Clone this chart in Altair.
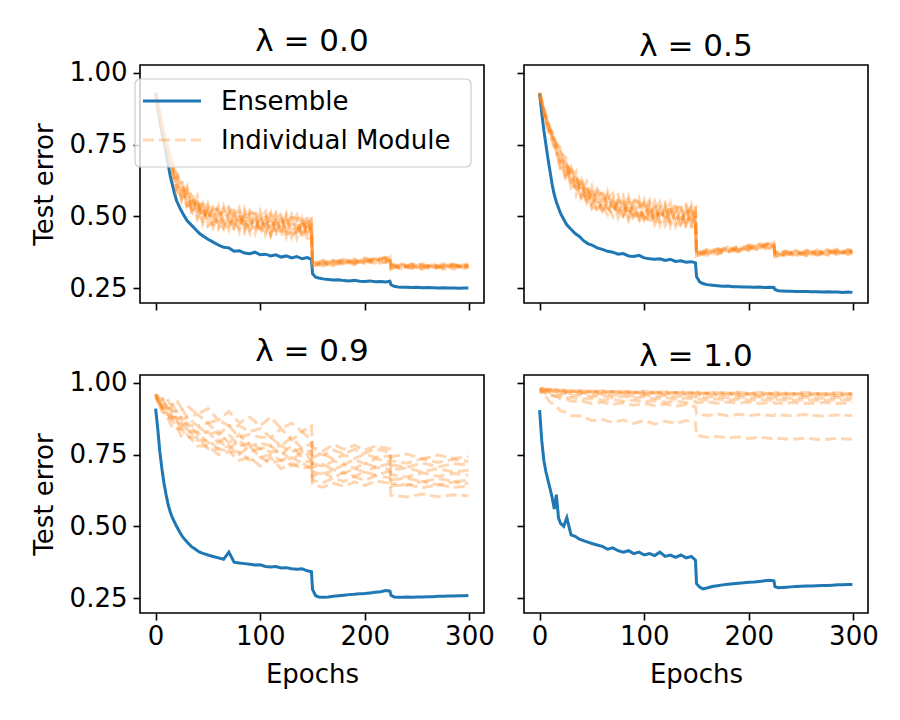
import altair as alt
import pandas as pd

# ---------------- data ----------------
PANEL_TITLES = ["λ = 0.0", "λ = 0.5", "λ = 0.9", "λ = 1.0"]
X_TICKS = [0, 100, 200, 300]
Y_TICKS = [0.25, 0.50, 0.75, 1.00]
LEGEND_LABELS = ["Ensemble", "Individual Module"]

EPOCHS_ENS = [0, 2, 4, 6, 8, 10, 12, 14, 16, 18, 20,
              23, 26,
              30, 34, 38, 42, 46, 50,
              55, 60, 65, 70, 75, 80, 85, 90, 95, 100, 105, 110, 115, 120, 125, 130, 135, 140, 145,
              149,
              150, 153, 156,
              160, 165, 170, 175, 180, 185, 190, 195, 200, 205, 210, 215, 220,
              224, 225, 228, 232, 236,
              240, 245, 250, 255, 260, 265, 270, 275, 280, 285, 290, 295,
              299]

ENS_00 = [0.93, 0.88, 0.83, 0.79, 0.76, 0.72, 0.68, 0.64, 0.61, 0.58, 0.555,
          0.53, 0.51,
          0.485, 0.47, 0.455, 0.44, 0.43, 0.42,
          0.41, 0.40, 0.392, 0.39, 0.378, 0.38, 0.372, 0.37, 0.375, 0.366, 0.368, 0.362, 0.366, 0.358, 0.362, 0.355, 0.36, 0.352, 0.356,
          0.35,
          0.30, 0.288, 0.285,
          0.282, 0.28, 0.278, 0.279, 0.276, 0.275, 0.277, 0.274, 0.273, 0.275, 0.272, 0.273, 0.271,
          0.274, 0.262, 0.256, 0.254, 0.253,
          0.253, 0.252, 0.253, 0.251, 0.252, 0.251, 0.25, 0.251, 0.25, 0.25, 0.249, 0.25,
          0.25]

ENS_05 = [0.928, 0.86, 0.80, 0.75, 0.70, 0.655, 0.61, 0.575, 0.55, 0.53, 0.51,
          0.49, 0.47,
          0.455, 0.44, 0.43, 0.415, 0.405, 0.40,
          0.39, 0.385, 0.378, 0.375, 0.368, 0.37, 0.362, 0.36, 0.364, 0.355, 0.352, 0.35, 0.352, 0.346, 0.35, 0.343, 0.345, 0.34, 0.342,
          0.338,
          0.29, 0.272, 0.266,
          0.262, 0.26, 0.258, 0.256, 0.257, 0.255, 0.255, 0.254, 0.254, 0.253, 0.254, 0.252, 0.253,
          0.252, 0.245, 0.241, 0.24, 0.239,
          0.239, 0.238, 0.238, 0.238, 0.237, 0.237, 0.236, 0.237, 0.236, 0.236, 0.235, 0.236,
          0.235]

ENS_09 = [0.91, 0.84, 0.76, 0.70, 0.65, 0.61, 0.575, 0.55, 0.53, 0.515, 0.50,
          0.48, 0.462,
          0.445, 0.43, 0.42, 0.41, 0.405, 0.40,
          0.395, 0.39, 0.385, 0.41, 0.375, 0.372, 0.37, 0.368, 0.365, 0.366, 0.36, 0.358, 0.36, 0.355, 0.356, 0.352, 0.35, 0.352, 0.345,
          0.342,
          0.28, 0.258, 0.254,
          0.253, 0.254, 0.256, 0.258, 0.26, 0.262, 0.263, 0.265, 0.266, 0.268, 0.27, 0.272, 0.276,
          0.274, 0.26, 0.254, 0.253, 0.253,
          0.254, 0.253, 0.254, 0.254, 0.255, 0.255, 0.256, 0.256, 0.257, 0.257, 0.258, 0.258,
          0.259]

ENS_10 = [0.905, 0.80, 0.73, 0.69, 0.66, 0.63, 0.60, 0.56, 0.61, 0.53, 0.51,
          0.50, 0.53,
          0.47, 0.465, 0.455, 0.45, 0.445, 0.44,
          0.435, 0.43, 0.42, 0.425, 0.415, 0.41, 0.415, 0.405, 0.41, 0.40, 0.405, 0.398, 0.41, 0.395, 0.40, 0.392, 0.40, 0.39, 0.395,
          0.382,
          0.30, 0.288, 0.282,
          0.285, 0.29, 0.293, 0.296, 0.298, 0.30, 0.302, 0.303, 0.305, 0.306, 0.308, 0.31, 0.312,
          0.31, 0.29, 0.286, 0.287, 0.288,
          0.289, 0.29, 0.291, 0.292, 0.292, 0.293, 0.294, 0.294, 0.295, 0.296, 0.296, 0.297,
          0.297]

# finer epoch grid for the dense module bands (lambda 0.0 and 0.5)
EPOCHS_MOD_FINE = [0, 3, 6, 10, 15,
                   20, 25, 30, 35, 40, 45, 50, 55, 60, 65, 70, 75, 80, 85, 90, 95,
                   100, 105, 110, 115, 120, 125, 130, 135, 140, 145, 149,
                   150, 160, 170, 180, 190, 200, 210, 220, 224,
                   225, 235, 245, 255, 265, 275, 285, 295, 299]

MOD_00 = [
    [0.93, 0.88, 0.83, 0.77, 0.70,
     0.65, 0.57, 0.605, 0.535, 0.55, 0.475, 0.535, 0.51, 0.467, 0.535, 0.472, 0.51, 0.447, 0.515, 0.482, 0.45,
     0.518, 0.466, 0.494, 0.432, 0.50, 0.448, 0.476, 0.504, 0.432, 0.48, 0.448,
     0.343, 0.330, 0.348, 0.336, 0.348, 0.334, 0.350, 0.346, 0.359,
     0.332, 0.317, 0.335, 0.320, 0.333, 0.315, 0.329, 0.320, 0.331],
    [0.92, 0.86, 0.80, 0.74, 0.67,
     0.60, 0.62, 0.535, 0.565, 0.49, 0.525, 0.485, 0.54, 0.517, 0.465, 0.522, 0.45, 0.497, 0.465, 0.522, 0.50,
     0.448, 0.506, 0.434, 0.482, 0.46, 0.508, 0.436, 0.444, 0.492, 0.42, 0.478,
     0.328, 0.345, 0.335, 0.351, 0.334, 0.349, 0.337, 0.355, 0.346,
     0.317, 0.330, 0.322, 0.334, 0.319, 0.329, 0.334, 0.316, 0.326],
    [0.93, 0.87, 0.82, 0.76, 0.69,
     0.63, 0.55, 0.585, 0.575, 0.51, 0.545, 0.465, 0.48, 0.537, 0.485, 0.452, 0.52, 0.507, 0.445, 0.502, 0.46,
     0.488, 0.516, 0.444, 0.502, 0.43, 0.468, 0.506, 0.434, 0.472, 0.49, 0.428,
     0.346, 0.334, 0.330, 0.344, 0.331, 0.352, 0.348, 0.338, 0.356,
     0.328, 0.335, 0.316, 0.328, 0.324, 0.333, 0.315, 0.333, 0.322],
    [0.93, 0.88, 0.81, 0.75, 0.68,
     0.58, 0.60, 0.555, 0.515, 0.57, 0.495, 0.515, 0.46, 0.507, 0.515, 0.532, 0.48, 0.457, 0.495, 0.442, 0.52,
     0.458, 0.446, 0.504, 0.452, 0.49, 0.438, 0.446, 0.484, 0.502, 0.45, 0.498,
     0.332, 0.341, 0.345, 0.331, 0.345, 0.340, 0.356, 0.353, 0.340,
     0.321, 0.322, 0.331, 0.315, 0.336, 0.319, 0.331, 0.328, 0.335],
    [0.92, 0.87, 0.80, 0.73, 0.66,
     0.64, 0.63, 0.525, 0.555, 0.52, 0.555, 0.495, 0.53, 0.457, 0.505, 0.502, 0.46, 0.527, 0.475, 0.462, 0.49,
     0.508, 0.436, 0.484, 0.512, 0.44, 0.498, 0.426, 0.464, 0.442, 0.50, 0.438,
     0.339, 0.326, 0.340, 0.347, 0.337, 0.355, 0.340, 0.357, 0.352,
     0.336, 0.324, 0.318, 0.331, 0.317, 0.326, 0.322, 0.335, 0.319],
    [0.93, 0.87, 0.82, 0.76, 0.70,
     0.61, 0.56, 0.595, 0.505, 0.56, 0.485, 0.545, 0.49, 0.477, 0.455, 0.512, 0.53, 0.467, 0.525, 0.452, 0.47,
     0.458, 0.496, 0.434, 0.492, 0.51, 0.428, 0.486, 0.424, 0.492, 0.43, 0.468,
     0.325, 0.339, 0.327, 0.341, 0.351, 0.337, 0.353, 0.343, 0.343,
     0.324, 0.332, 0.328, 0.317, 0.330, 0.321, 0.337, 0.318, 0.329],
    [0.92, 0.86, 0.81, 0.75, 0.67,
     0.66, 0.59, 0.545, 0.585, 0.50, 0.535, 0.475, 0.52, 0.527, 0.475, 0.462, 0.50, 0.517, 0.455, 0.512, 0.51,
     0.438, 0.476, 0.514, 0.442, 0.45, 0.478, 0.496, 0.494, 0.422, 0.47, 0.488,
     0.336, 0.347, 0.333, 0.333, 0.352, 0.346, 0.343, 0.359, 0.354,
     0.315, 0.328, 0.320, 0.336, 0.322, 0.335, 0.319, 0.327, 0.317],
    [0.93, 0.88, 0.82, 0.76, 0.69,
     0.59, 0.61, 0.575, 0.525, 0.54, 0.505, 0.525, 0.47, 0.487, 0.525, 0.482, 0.47, 0.477, 0.505, 0.492, 0.44,
     0.498, 0.456, 0.464, 0.472, 0.48, 0.488, 0.456, 0.454, 0.482, 0.44, 0.418,
     0.329, 0.335, 0.343, 0.349, 0.340, 0.343, 0.335, 0.340, 0.348,
     0.333, 0.315, 0.333, 0.324, 0.315, 0.330, 0.328, 0.323, 0.332],
]

MOD_05 = [
    [0.93, 0.89, 0.85, 0.81, 0.76,
     0.71, 0.625, 0.66, 0.645, 0.575, 0.61, 0.525, 0.535, 0.59, 0.535, 0.50, 0.565, 0.55, 0.487, 0.544, 0.50,
     0.528, 0.555, 0.482, 0.54, 0.468, 0.506, 0.544, 0.472, 0.51, 0.53, 0.468,
     0.378, 0.368, 0.388, 0.378, 0.392, 0.380, 0.398, 0.396, 0.409,
     0.374, 0.362, 0.381, 0.367, 0.380, 0.364, 0.378, 0.370, 0.382],
    [0.92, 0.87, 0.83, 0.79, 0.74,
     0.69, 0.635, 0.67, 0.575, 0.625, 0.55, 0.605, 0.545, 0.53, 0.505, 0.56, 0.575, 0.51, 0.567, 0.494, 0.51,
     0.498, 0.535, 0.472, 0.53, 0.548, 0.466, 0.524, 0.462, 0.53, 0.47, 0.508,
     0.363, 0.383, 0.375, 0.393, 0.378, 0.395, 0.385, 0.405, 0.396,
     0.359, 0.375, 0.368, 0.381, 0.366, 0.378, 0.383, 0.366, 0.377],
    [0.93, 0.88, 0.84, 0.80, 0.75,
     0.73, 0.645, 0.68, 0.605, 0.615, 0.54, 0.595, 0.565, 0.52, 0.585, 0.52, 0.555, 0.49, 0.557, 0.524, 0.49,
     0.558, 0.505, 0.532, 0.47, 0.538, 0.486, 0.514, 0.542, 0.47, 0.52, 0.488,
     0.381, 0.372, 0.370, 0.386, 0.375, 0.398, 0.396, 0.388, 0.406,
     0.370, 0.380, 0.362, 0.375, 0.371, 0.382, 0.364, 0.383, 0.373],
    [0.93, 0.89, 0.85, 0.80, 0.76,
     0.74, 0.665, 0.62, 0.655, 0.565, 0.60, 0.535, 0.575, 0.58, 0.525, 0.51, 0.545, 0.56, 0.497, 0.554, 0.55,
     0.478, 0.515, 0.552, 0.48, 0.488, 0.516, 0.534, 0.532, 0.46, 0.51, 0.528,
     0.367, 0.379, 0.385, 0.373, 0.389, 0.386, 0.404, 0.403, 0.390,
     0.363, 0.367, 0.377, 0.362, 0.383, 0.368, 0.380, 0.378, 0.386],
    [0.92, 0.87, 0.82, 0.78, 0.73,
     0.68, 0.695, 0.61, 0.635, 0.555, 0.59, 0.545, 0.595, 0.57, 0.515, 0.57, 0.495, 0.54, 0.507, 0.564, 0.54,
     0.488, 0.545, 0.472, 0.52, 0.498, 0.546, 0.474, 0.482, 0.53, 0.46, 0.518,
     0.374, 0.364, 0.380, 0.389, 0.381, 0.401, 0.388, 0.407, 0.402,
     0.378, 0.369, 0.364, 0.378, 0.364, 0.375, 0.371, 0.385, 0.370],
    [0.93, 0.88, 0.84, 0.81, 0.75,
     0.67, 0.685, 0.65, 0.595, 0.605, 0.57, 0.585, 0.525, 0.54, 0.575, 0.53, 0.515, 0.52, 0.547, 0.534, 0.48,
     0.538, 0.495, 0.502, 0.51, 0.518, 0.526, 0.494, 0.492, 0.52, 0.48, 0.458,
     0.360, 0.377, 0.367, 0.383, 0.395, 0.383, 0.401, 0.393, 0.393,
     0.366, 0.377, 0.374, 0.364, 0.377, 0.370, 0.386, 0.368, 0.380],
    [0.92, 0.88, 0.83, 0.79, 0.74,
     0.66, 0.675, 0.63, 0.585, 0.635, 0.56, 0.575, 0.515, 0.56, 0.565, 0.58, 0.525, 0.50, 0.537, 0.484, 0.56,
     0.498, 0.485, 0.542, 0.49, 0.528, 0.476, 0.484, 0.522, 0.54, 0.49, 0.538,
     0.371, 0.385, 0.373, 0.375, 0.396, 0.392, 0.391, 0.409, 0.404,
     0.357, 0.373, 0.366, 0.383, 0.369, 0.384, 0.368, 0.377, 0.368],
    [0.93, 0.89, 0.84, 0.80, 0.76,
     0.72, 0.705, 0.60, 0.625, 0.585, 0.62, 0.555, 0.585, 0.51, 0.555, 0.55, 0.505, 0.57, 0.517, 0.504, 0.53,
     0.548, 0.475, 0.522, 0.55, 0.478, 0.536, 0.464, 0.502, 0.48, 0.54, 0.478,
     0.364, 0.373, 0.383, 0.391, 0.384, 0.389, 0.383, 0.390, 0.398,
     0.375, 0.360, 0.379, 0.371, 0.362, 0.379, 0.377, 0.373, 0.383],
]

# coarser epoch grid for lambda 0.9 and 1.0 modules
EPOCHS_MOD = [0, 3, 6, 10, 15, 20, 25, 30, 40, 50, 60, 70, 80, 90, 100, 110, 120, 130, 140, 149,
              150, 160, 170, 180, 190, 200, 210, 224,
              225, 240, 255, 270, 285, 299]

MOD_09 = [
    [0.96, 0.95, 0.94, 0.95, 0.92, 0.94, 0.91, 0.92, 0.89, 0.91, 0.87, 0.90, 0.86, 0.88, 0.85, 0.88, 0.84, 0.86, 0.83, 0.85,
     0.775, 0.762, 0.785, 0.768, 0.782, 0.765, 0.779, 0.77,
     0.742, 0.752, 0.735, 0.748, 0.736, 0.742],
    [0.96, 0.94, 0.95, 0.92, 0.93, 0.90, 0.91, 0.88, 0.89, 0.86, 0.87, 0.85, 0.85, 0.83, 0.84, 0.81, 0.84, 0.80, 0.83, 0.80,
     0.76, 0.748, 0.765, 0.752, 0.768, 0.754, 0.77, 0.758,
     0.728, 0.72, 0.735, 0.722, 0.733, 0.726],
    [0.95, 0.95, 0.92, 0.93, 0.90, 0.90, 0.87, 0.88, 0.85, 0.86, 0.82, 0.85, 0.81, 0.82, 0.81, 0.81, 0.78, 0.81, 0.77, 0.79,
     0.74, 0.752, 0.733, 0.748, 0.736, 0.752, 0.74, 0.746,
     0.714, 0.706, 0.72, 0.707, 0.718, 0.713],
    [0.96, 0.93, 0.93, 0.91, 0.91, 0.87, 0.88, 0.85, 0.85, 0.82, 0.83, 0.79, 0.82, 0.78, 0.79, 0.78, 0.78, 0.76, 0.77, 0.76,
     0.72, 0.708, 0.728, 0.716, 0.732, 0.718, 0.735, 0.726,
     0.696, 0.703, 0.69, 0.701, 0.689, 0.695],
    [0.95, 0.94, 0.91, 0.92, 0.88, 0.88, 0.85, 0.86, 0.82, 0.83, 0.79, 0.82, 0.78, 0.79, 0.77, 0.78, 0.75, 0.78, 0.74, 0.76,
     0.705, 0.716, 0.698, 0.714, 0.702, 0.72, 0.706, 0.718,
     0.68, 0.672, 0.686, 0.674, 0.684, 0.678],
    [0.96, 0.93, 0.92, 0.89, 0.89, 0.86, 0.86, 0.83, 0.83, 0.79, 0.80, 0.77, 0.80, 0.76, 0.77, 0.76, 0.76, 0.73, 0.76, 0.73,
     0.69, 0.68, 0.698, 0.684, 0.702, 0.688, 0.706, 0.698,
     0.662, 0.668, 0.655, 0.666, 0.656, 0.66],
    [0.95, 0.93, 0.91, 0.90, 0.87, 0.87, 0.83, 0.84, 0.80, 0.80, 0.77, 0.78, 0.75, 0.78, 0.74, 0.75, 0.73, 0.74, 0.72, 0.73,
     0.675, 0.686, 0.67, 0.688, 0.674, 0.69, 0.678, 0.692,
     0.65, 0.643, 0.656, 0.645, 0.654, 0.649],
    [0.96, 0.92, 0.92, 0.88, 0.88, 0.84, 0.84, 0.81, 0.81, 0.77, 0.77, 0.76, 0.76, 0.73, 0.74, 0.72, 0.73, 0.71, 0.72, 0.70,
     0.66, 0.652, 0.668, 0.656, 0.672, 0.66, 0.676, 0.67,
     0.64, 0.646, 0.634, 0.645, 0.636, 0.639],
    [0.95, 0.93, 0.90, 0.89, 0.85, 0.85, 0.81, 0.82, 0.78, 0.78, 0.75, 0.76, 0.73, 0.74, 0.71, 0.74, 0.70, 0.72, 0.70, 0.71,
     0.645, 0.636, 0.65, 0.64, 0.655, 0.642, 0.658, 0.65,
     0.608, 0.602, 0.612, 0.603, 0.61, 0.606],
]

MOD_10 = [
    [0.98, 0.975, 0.978, 0.972, 0.976, 0.97, 0.974, 0.968, 0.972, 0.967, 0.971, 0.966, 0.97, 0.965, 0.969, 0.964, 0.968, 0.964, 0.967, 0.963,
     0.966, 0.962, 0.966, 0.962, 0.965, 0.961, 0.965, 0.961,
     0.964, 0.961, 0.964, 0.96, 0.963, 0.962],
    [0.975, 0.979, 0.972, 0.976, 0.969, 0.974, 0.967, 0.972, 0.965, 0.97, 0.963, 0.968, 0.962, 0.966, 0.96, 0.965, 0.959, 0.964, 0.958, 0.963,
     0.957, 0.961, 0.956, 0.96, 0.956, 0.96, 0.955, 0.959,
     0.955, 0.959, 0.955, 0.958, 0.955, 0.957],
    [0.978, 0.972, 0.974, 0.968, 0.97, 0.965, 0.968, 0.961, 0.965, 0.958, 0.962, 0.956, 0.96, 0.954, 0.958, 0.952, 0.956, 0.951, 0.955, 0.95,
     0.953, 0.949, 0.952, 0.948, 0.951, 0.947, 0.951, 0.947,
     0.95, 0.946, 0.95, 0.946, 0.949, 0.947],
    [0.975, 0.97, 0.971, 0.964, 0.966, 0.959, 0.962, 0.955, 0.958, 0.951, 0.955, 0.948, 0.953, 0.946, 0.951, 0.944, 0.949, 0.943, 0.947, 0.942,
     0.945, 0.94, 0.944, 0.939, 0.943, 0.939, 0.943, 0.938,
     0.942, 0.938, 0.941, 0.938, 0.941, 0.939],
    [0.97, 0.968, 0.962, 0.96, 0.953, 0.954, 0.948, 0.949, 0.943, 0.945, 0.939, 0.942, 0.936, 0.939, 0.934, 0.937, 0.932, 0.936, 0.931, 0.935,
     0.93, 0.934, 0.929, 0.933, 0.929, 0.932, 0.928, 0.932,
     0.928, 0.931, 0.928, 0.931, 0.928, 0.93],
    [0.982, 0.977, 0.979, 0.974, 0.977, 0.972, 0.975, 0.97, 0.973, 0.969, 0.972, 0.968, 0.971, 0.967, 0.97, 0.966, 0.969, 0.966, 0.968, 0.965,
     0.968, 0.964, 0.967, 0.964, 0.967, 0.963, 0.966, 0.963,
     0.966, 0.963, 0.966, 0.962, 0.965, 0.963],
    [0.976, 0.98, 0.974, 0.977, 0.971, 0.975, 0.969, 0.973, 0.967, 0.971, 0.966, 0.97, 0.964, 0.968, 0.963, 0.967, 0.962, 0.966, 0.961, 0.965,
     0.96, 0.964, 0.959, 0.963, 0.959, 0.962, 0.958, 0.962,
     0.958, 0.961, 0.958, 0.961, 0.957, 0.96],
    [0.975, 0.968, 0.966, 0.956, 0.954, 0.944, 0.944, 0.936, 0.936, 0.928, 0.932, 0.925, 0.93, 0.922, 0.928, 0.92, 0.926, 0.918, 0.924, 0.916,
     0.892, 0.886, 0.891, 0.885, 0.89, 0.886, 0.889, 0.885,
     0.889, 0.885, 0.889, 0.884, 0.888, 0.886],
    [0.97, 0.958, 0.952, 0.932, 0.922, 0.902, 0.898, 0.886, 0.884, 0.868, 0.872, 0.862, 0.87, 0.858, 0.868, 0.856, 0.866, 0.858, 0.868, 0.86,
     0.816, 0.81, 0.813, 0.808, 0.811, 0.806, 0.81, 0.805,
     0.808, 0.802, 0.807, 0.801, 0.806, 0.803],
]

for s in (ENS_00, ENS_05, ENS_09, ENS_10):
    assert len(s) == len(EPOCHS_ENS), len(s)
for group in (MOD_00, MOD_05):
    for s in group:
        assert len(s) == len(EPOCHS_MOD_FINE), len(s)
for group in (MOD_09, MOD_10):
    for s in group:
        assert len(s) == len(EPOCHS_MOD), len(s)

# ---------------- styling ----------------
BLUE = "#1f77b4"
ORANGE = "#ff7f0e"
FONT = "DejaVu Sans"
FS = 26
W, H = 344, 238


def panel(title, ens, mod_epochs, mods, show_x, show_y, legend=False):
    x_axis = alt.Axis(values=X_TICKS, labels=show_x, title="Epochs" if show_x else None,
                      grid=False, domain=False, tickSize=7, tickWidth=1.6, tickColor="black",
                      labelFont=FONT, labelFontSize=FS, labelColor="black", labelPadding=3,
                      titleFont=FONT, titleFontSize=FS, titleFontWeight="normal", titleColor="black",
                      titlePadding=12, labelFlush=False)
    y_axis = alt.Axis(values=Y_TICKS, labels=show_y, format=".2f", title="Test error" if show_y else None,
                      grid=False, domain=False, tickSize=7, tickWidth=1.6, tickColor="black",
                      labelFont=FONT, labelFontSize=FS, labelColor="black", labelPadding=6,
                      titleFont=FONT, titleFontSize=FS, titleFontWeight="normal", titleColor="black",
                      titlePadding=12, labelFlush=False)
    x = alt.X("epoch:Q", scale=alt.Scale(domain=[-14.95, 313.95], nice=False, zero=False), axis=x_axis)
    y = alt.Y("err:Q", scale=alt.Scale(domain=[0.198, 1.027], nice=False, zero=False), axis=y_axis)

    ens_df = pd.DataFrame({"epoch": EPOCHS_ENS, "err": ens})
    layers = [alt.Chart(ens_df).mark_line(color=BLUE, strokeWidth=3).encode(x=x, y=y)]

    for i, m in enumerate(mods):
        mdf = pd.DataFrame({"epoch": mod_epochs, "err": m})
        layers.append(
            alt.Chart(mdf).mark_line(color=ORANGE, strokeWidth=3, opacity=0.32,
                                     strokeDash=[11, 5], strokeDashOffset=(i * 5) % 16).encode(x=x, y=y)
        )

    if legend:
        lg = pd.DataFrame({"label": LEGEND_LABELS})
        box = alt.Chart(lg.head(1)).mark_rect(
            fill="white", fillOpacity=0.8, stroke="#cccccc", strokeWidth=1.2, cornerRadius=5
        ).encode(x=alt.value(-5), x2=alt.value(331), y=alt.value(14), y2=alt.value(102))
        s1 = alt.Chart(lg.head(1)).mark_rule(color=BLUE, strokeWidth=3).encode(
            x=alt.value(3), x2=alt.value(61), y=alt.value(36))
        s2 = alt.Chart(lg.head(1)).mark_rule(color=ORANGE, strokeWidth=3, opacity=0.3,
                                             strokeDash=[11, 5]).encode(
            x=alt.value(3), x2=alt.value(61), y=alt.value(75))
        t1 = alt.Chart(lg.head(1)).mark_text(align="left", baseline="middle", font=FONT,
                                             fontSize=FS, color="black").encode(
            text="label:N", x=alt.value(81), y=alt.value(37))
        t2 = alt.Chart(lg.tail(1)).mark_text(align="left", baseline="middle", font=FONT,
                                             fontSize=FS, color="black").encode(
            text="label:N", x=alt.value(81), y=alt.value(76))
        layers += [box, s1, s2, t1, t2]

    return alt.layer(*layers).properties(
        width=W, height=H,
        title=alt.TitleParams(text=title, font=FONT, fontSize=31, fontWeight="normal",
                              color="black", offset=2, anchor="middle"),
    )


p1 = panel(PANEL_TITLES[0], ENS_00, EPOCHS_MOD_FINE, MOD_00, show_x=False, show_y=True, legend=True)
p2 = panel(PANEL_TITLES[1], ENS_05, EPOCHS_MOD_FINE, MOD_05, show_x=False, show_y=False)
p3 = panel(PANEL_TITLES[2], ENS_09, EPOCHS_MOD, MOD_09, show_x=True, show_y=True)
p4 = panel(PANEL_TITLES[3], ENS_10, EPOCHS_MOD, MOD_10, show_x=True, show_y=False)

chart = alt.concat(
    p1, p2, p3, p4, columns=2, spacing={"row": 72, "column": 40}, bounds="flush"
).properties(
    padding={"left": 30, "top": 24, "right": 5, "bottom": 5}
).configure(background="white").configure_view(stroke="black", strokeWidth=1.6)

chart.save("out.html", embed_options={"renderer": "svg", "actions": False})
